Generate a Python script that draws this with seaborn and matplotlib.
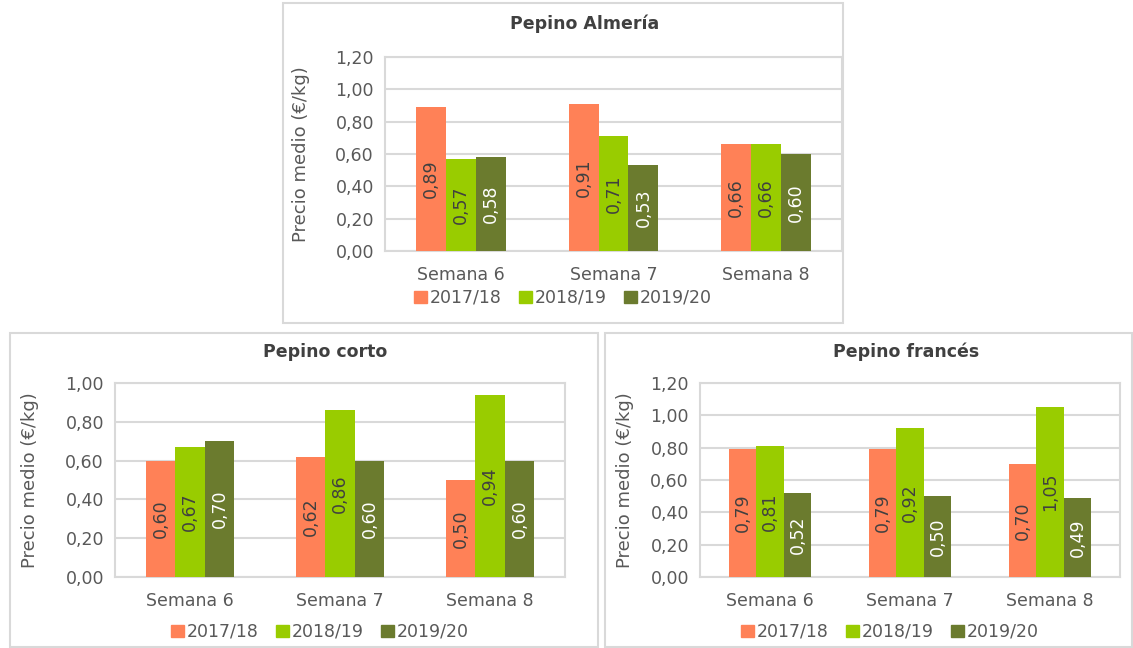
import matplotlib
matplotlib.use("Agg")
import matplotlib.pyplot as plt
import seaborn as sns
import pandas as pd
from matplotlib.patches import Rectangle

# datos
semanas = ["Semana 6", "Semana 7", "Semana 8"]
campanas = ["2017/18", "2018/19", "2019/20"]

almeria_1718 = [0.89, 0.91, 0.66]
almeria_1819 = [0.57, 0.71, 0.66]
almeria_1920 = [0.58, 0.53, 0.60]

corto_1718 = [0.60, 0.62, 0.50]
corto_1819 = [0.67, 0.86, 0.94]
corto_1920 = [0.70, 0.60, 0.60]

frances_1718 = [0.79, 0.79, 0.70]
frances_1819 = [0.81, 0.92, 1.05]
frances_1920 = [0.52, 0.50, 0.49]

colores = ["#FF8157", "#99CC00", "#6B7B2E"]
col_etiqueta = ["#404040", "#404040", "#FFFFFF"]
gris = "#595959"
rejilla = "#D9D9D9"

sns.set_style("white")
plt.rcParams["font.family"] = ["DejaVu Sans"]


def tabla(v1, v2, v3):
    filas = []
    for serie, vals in zip(campanas, [v1, v2, v3]):
        for s, v in zip(semanas, vals):
            filas.append({"semana": s, "campana": serie, "precio": v})
    return pd.DataFrame(filas)


fig = plt.figure(figsize=(11.33, 6.48), dpi=100)
W, H = 1133, 648


def caja(x0, y0, x1, y1):
    fig.patches.append(Rectangle((x0 / W, 1 - y1 / H), (x1 - x0) / W, (y1 - y0) / H,
                                 transform=fig.transFigure, fill=False,
                                 edgecolor=rejilla, linewidth=1.5))


def grafico(px, datos, ymax, titulo, tit_xy, leg_xy, ylab_x):
    x0, y0, x1, y1 = px
    ax = fig.add_axes([x0 / W, 1 - y1 / H, (x1 - x0) / W, (y1 - y0) / H])
    sns.barplot(data=datos, x="semana", y="precio", hue="campana", palette=colores,
                width=0.59, gap=0, ax=ax, legend=False, saturation=1, zorder=3,
                linewidth=0, edgecolor="none")
    ax.set_ylim(0, ymax)
    ax.set_xlim(-0.5, 2.5)
    ticks = [i * 0.2 for i in range(int(round(ymax / 0.2)) + 1)]
    ax.set_yticks(ticks)
    ax.set_yticklabels([f"{t:.2f}".replace(".", ",") for t in ticks], color=gris, fontsize=12.5)
    ax.tick_params(axis="y", length=5, color=rejilla, width=1.5, pad=3)
    ax.set_xticks([0, 1, 2])
    ax.set_xticklabels(semanas, color=gris, fontsize=12.5)
    ax.set_xticks([-0.5, 0.5, 1.5, 2.5], minor=True)
    ax.tick_params(axis="x", which="major", length=0, pad=11)
    ax.tick_params(axis="x", which="minor", length=5, color=rejilla, width=1.5)
    ax.grid(axis="y", color=rejilla, linewidth=1.5, zorder=0)
    for sp in ax.spines.values():
        sp.set_color(rejilla)
        sp.set_linewidth(1.5)
    ax.set_xlabel("")
    ax.set_ylabel("")
    fig.text(ylab_x / W, 1 - (y0 + y1) / 2 / H, "Precio medio (€/kg)", rotation=90,
             ha="center", va="center", color=gris, fontsize=13)
    for cont, c in zip(ax.containers, col_etiqueta):
        ax.bar_label(cont, labels=[f"{b.get_height():.2f}".replace(".", ",") for b in cont],
                     label_type="center", rotation=90, color=c, fontsize=12.5)
    fig.text(tit_xy[0] / W, 1 - tit_xy[1] / H, titulo, ha="center", va="center",
             fontsize=12.5, fontweight="bold", color="#404040")
    handles = [Rectangle((0, 0), 1, 1, color=c) for c in colores]
    fig.legend(handles, campanas, loc="center", bbox_to_anchor=(leg_xy[0] / W, 1 - leg_xy[1] / H),
               ncol=3, frameon=False, fontsize=12.5, labelcolor=gris, handlelength=0.75,
               handleheight=0.75, handletextpad=0.15, columnspacing=1.0)
    return ax


caja(283, 3, 843, 323)
caja(10, 333, 598, 647)
caja(605, 333, 1132, 647)

grafico((385, 57, 842, 251), tabla(almeria_1718, almeria_1819, almeria_1920), 1.2,
        "Pepino Almería", (585, 24), (563, 298), 301)
grafico((115, 383, 565, 577), tabla(corto_1718, corto_1819, corto_1920), 1.0,
        "Pepino corto", (325, 352), (320, 632), 30)
grafico((700, 383, 1120, 577), tabla(frances_1718, frances_1819, frances_1920), 1.2,
        "Pepino francés", (906, 352), (890, 632), 625)

fig.savefig("out.png", dpi=100)
